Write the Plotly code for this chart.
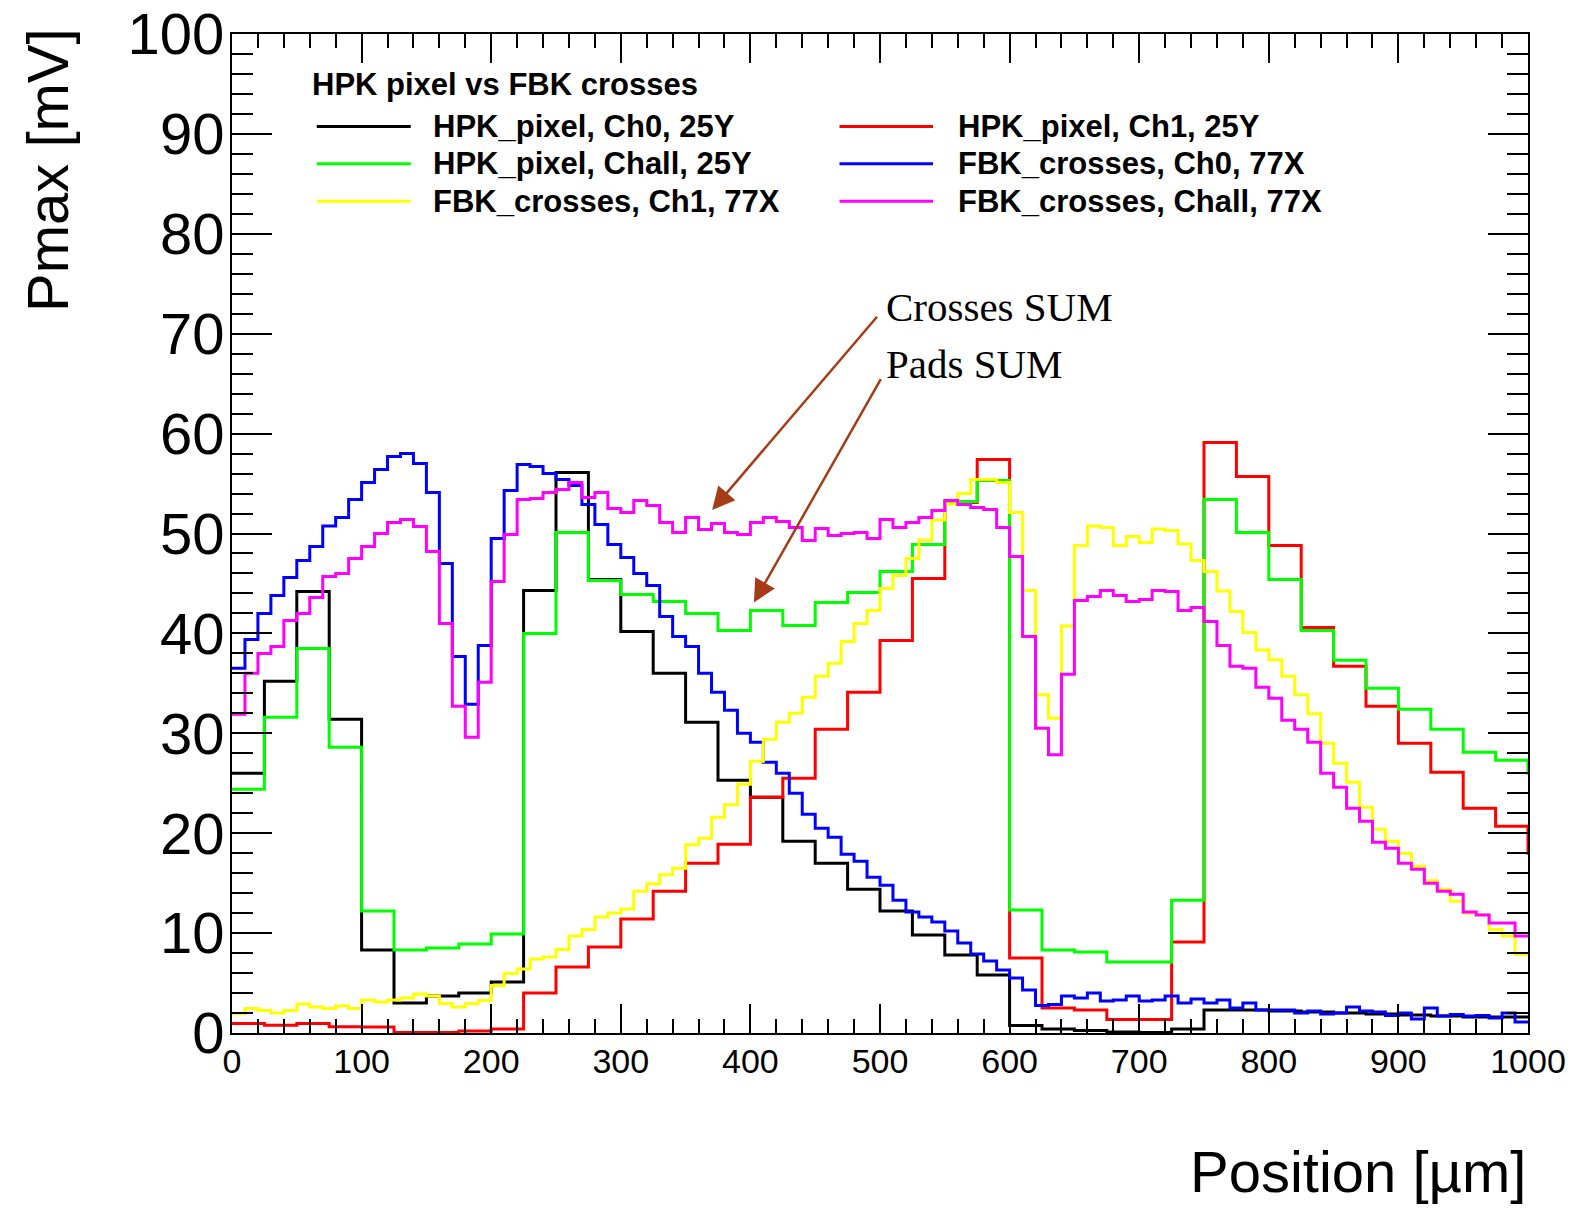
import numpy as np
import plotly.graph_objects as go

# ---------------------------------------------------------------------------
# Pmax vs position scan: HPK pixel (25 um bins) and FBK crosses (10 um bins)
# ---------------------------------------------------------------------------
HPK_BIN_WIDTH = 25.0
FBK_BIN_WIDTH = 10.0

# HPK_pixel, Ch0, 25Y
hpk_ch0 = [26.0, 35.2, 44.2, 31.4, 8.3, 3.0, 3.7, 4.0, 5.1, 44.3,
           56.1, 45.4, 40.2, 36.0, 31.1, 25.3, 23.6, 19.2, 17.0, 14.4,
           12.2, 9.8, 7.8, 5.8, 0.75, 0.4, 0.25, 0.1, 0.05, 0.4,
           2.3, 2.3, 2.2, 2.1, 2.0, 1.9, 1.8, 1.7, 1.6, 1.6]

# HPK_pixel, Ch1, 25Y (last entry is the bin just past 1000 um)
hpk_ch1 = [0.95, 0.78, 0.95, 0.62, 0.6, 0.05, 0.05, 0.2, 0.4, 4.0,
           6.6, 8.6, 11.4, 14.2, 17.0, 18.9, 23.6, 25.5, 30.4, 34.1,
           39.3, 45.5, 53.1, 57.4, 7.5, 2.5, 2.3, 1.35, 1.35, 9.1,
           59.1, 55.7, 48.8, 40.6, 36.7, 32.7, 29.0, 26.1, 22.5, 20.7,
           18.0]

# HPK_pixel, Chall, 25Y (last entry is the bin just past 1000 um)
hpk_chall = [24.4, 31.6, 38.5, 28.6, 12.2, 8.3, 8.5, 8.9, 9.9, 40.0,
             50.1, 45.3, 43.9, 43.2, 42.0, 40.3, 42.3, 40.8, 43.1, 44.1,
             46.2, 48.9, 53.2, 55.3, 12.3, 8.3, 8.1, 7.1, 7.1, 13.3,
             53.4, 50.1, 45.4, 40.3, 37.3, 34.5, 32.4, 30.4, 28.1, 27.3,
             26.0]

# FBK_crosses, Ch0, 77X
fbk_ch0 = [36.5, 39.4, 42.0, 43.8, 45.6, 47.3, 48.7, 50.75, 51.6, 53.4,
           55.1, 56.4, 57.7, 58.0, 57.0, 54.1, 47.0, 37.7, 32.9, 38.8,
           49.5, 54.3, 56.9, 56.7, 56.0, 55.4, 54.8, 52.9, 50.9, 48.9,
           47.6, 46.0, 44.8, 41.7, 39.7, 38.7, 36.0, 34.1, 32.3, 30.0,
           29.1, 27.1, 26.0, 24.0, 21.9, 20.5, 19.6, 17.9, 17.2, 15.6,
           14.8, 13.3, 12.1, 11.6, 11.1, 10.2, 9.0, 7.9, 7.2, 6.3,
           5.5, 4.3, 2.75, 2.85, 3.7, 3.5, 4.0, 3.2, 3.3, 3.7,
           3.2, 3.3, 3.7, 3.0, 3.4, 3.0, 3.3, 2.5, 3.0, 2.3,
           2.3, 2.3, 2.0, 2.2, 1.9, 2.0, 2.6, 2.2, 2.1, 1.75,
           2.0, 1.4, 2.5, 1.7, 1.85, 1.7, 1.75, 1.5, 2.0, 1.1]

# FBK_crosses, Ch1, 77X
fbk_ch1 = [1.95, 2.45, 2.25, 2.0, 2.25, 2.9, 2.6, 2.45, 2.7, 2.45,
           3.3, 3.1, 3.3, 3.5, 3.9, 3.7, 2.95, 2.6, 2.95, 3.25,
           4.75, 5.95, 6.4, 7.4, 7.6, 8.35, 9.7, 10.35, 11.6, 12.0,
           12.4, 14.2, 14.95, 15.85, 16.5, 18.85, 19.5, 21.6, 22.85, 24.9,
           27.2, 29.4, 31.1, 32.0, 33.6, 35.7, 37.0, 39.2, 41.0, 42.3,
           44.5, 45.8, 47.5, 49.35, 51.35, 52.95, 54.0, 55.4, 55.4, 55.1,
           52.1, 44.3, 33.85, 31.5, 40.75, 48.8, 50.75, 50.6, 48.8, 49.7,
           49.1, 50.45, 50.3, 48.95, 47.3, 46.2, 44.25, 42.2, 40.1, 38.35,
           37.35, 35.7, 33.85, 31.95, 29.0, 27.0, 25.1, 22.6, 20.4, 19.2,
           18.0, 16.7, 15.25, 14.4, 13.2, 12.0, 11.85, 10.35, 9.7, 7.85]

# FBK_crosses, Chall, 77X
fbk_chall = [31.9, 36.0, 38.0, 38.7, 41.3, 42.0, 43.6, 45.7, 46.0, 47.5,
             48.7, 50.0, 51.1, 51.4, 50.7, 48.2, 41.0, 32.7, 29.6, 35.1,
             45.2, 49.9, 53.4, 53.5, 54.1, 54.4, 55.1, 53.6, 54.1, 52.5,
             52.1, 53.3, 52.8, 51.1, 50.1, 51.6, 50.4, 51.0, 50.1, 49.9,
             51.1, 51.6, 51.2, 50.6, 49.3, 50.5, 49.8, 50.0, 50.1, 49.5,
             51.4, 50.6, 51.1, 51.6, 52.3, 53.3, 52.9, 52.6, 52.4, 50.6,
             47.7, 39.7, 30.5, 27.85, 35.9, 43.3, 43.7, 44.3, 43.8, 43.2,
             43.4, 44.3, 44.2, 42.3, 42.6, 41.2, 38.8, 36.7, 36.5, 34.6,
             33.5, 31.3, 30.4, 29.1, 26.0, 24.6, 22.5, 21.2, 19.1, 18.5,
             17.0, 16.4, 15.0, 14.2, 13.9, 12.1, 11.8, 11.0, 11.0, 9.7]

series = [
    ("HPK_pixel, Ch0, 25Y", hpk_ch0, HPK_BIN_WIDTH, "#000000"),
    ("HPK_pixel, Ch1, 25Y", hpk_ch1, HPK_BIN_WIDTH, "#FF0000"),
    ("HPK_pixel, Chall, 25Y", hpk_chall, HPK_BIN_WIDTH, "#00FF00"),
    ("FBK_crosses, Ch0, 77X", fbk_ch0, FBK_BIN_WIDTH, "#0000FF"),
    ("FBK_crosses, Ch1, 77X", fbk_ch1, FBK_BIN_WIDTH, "#FFFF00"),
    ("FBK_crosses, Chall, 77X", fbk_chall, FBK_BIN_WIDTH, "#FF00FF"),
]

LEGEND_TITLE = "HPK pixel vs FBK crosses"
X_TITLE = "Position [µm]"
Y_TITLE = "Pmax [mV]"
X_RANGE = [0, 1000]
Y_RANGE = [0, 100]

fig = go.Figure()

# histograms drawn as step lines: left edge of each bin, closed at the last right edge
for name, vals, width, color in series:
    edges = np.arange(len(vals) + 1) * width
    yvals = list(vals) + [vals[-1]]
    fig.add_trace(go.Scatter(
        x=edges, y=yvals, mode="lines", name=name,
        line=dict(color=color, width=3, shape="hv"),
        showlegend=False, hoverinfo="skip",
    ))

AX_FONT = "Liberation Sans, Arial, sans-serif"
LEG_FONT = "Liberation Sans, Arial, sans-serif"
SERIF = "Liberation Serif, Times New Roman, serif"

fig.update_layout(
    width=1574, height=1208,
    margin=dict(l=232, r=46, t=34, b=175),
    paper_bgcolor="white", plot_bgcolor="white",
    showlegend=False,
    xaxis=dict(
        range=X_RANGE, autorange=False, showgrid=False, zeroline=False,
        showline=True, linecolor="black", linewidth=2, mirror="ticks",
        ticks="inside", ticklen=29, tickwidth=2, tickcolor="black",
        dtick=100, tick0=0,
        minor=dict(ticks="inside", ticklen=14, tickwidth=2, tickcolor="black", dtick=20),
        tickfont=dict(family=AX_FONT, size=34, color="black"),
        ticklabelstandoff=-3, automargin=False,
    ),
    yaxis=dict(
        range=Y_RANGE, autorange=False, showgrid=False, zeroline=False,
        showline=True, linecolor="black", linewidth=2, mirror="ticks",
        ticks="inside", ticklen=40, tickwidth=2, tickcolor="black",
        dtick=10, tick0=0,
        minor=dict(ticks="inside", ticklen=21, tickwidth=2, tickcolor="black", dtick=2),
        tickfont=dict(family=AX_FONT, size=58, color="black"),
        ticklabelstandoff=-6, automargin=False,
    ),
)

# axis titles
fig.add_annotation(
    text=Y_TITLE, xref="paper", yref="paper", x=-0.1423, y=0.8635,
    xanchor="center", yanchor="middle", textangle=-90, showarrow=False,
    font=dict(family=AX_FONT, size=58, color="black"),
)
fig.add_annotation(
    text=X_TITLE, xref="paper", yref="paper", x=1.0, y=-0.1385,
    xanchor="right", yanchor="middle", showarrow=False,
    font=dict(family=AX_FONT, size=58, color="black"),
)

# legend box content (two columns, three rows)
PLOT_L, PLOT_W, PLOT_B, PLOT_H = 232.3, 1295.4, 1033.5, 1000.0


def px_to_paper(px, py):
    return (px - PLOT_L) / PLOT_W, (PLOT_B - py) / PLOT_H


tx, ty = px_to_paper(310.4, 84.5)
fig.add_annotation(
    text=f"<b>{LEGEND_TITLE}</b>", xref="paper", yref="paper", x=tx, y=ty,
    xanchor="left", yanchor="middle", showarrow=False,
    font=dict(family=LEG_FONT, size=31, color="black"),
)
col_line = [(317, 411), (839.5, 933)]
col_text = [431.5, 955.5]
row_y = [126, 163.5, 201]
for i, (name, vals, width, color) in enumerate(series):
    r, c = divmod(i, 2)
    x0, yy = px_to_paper(col_line[c][0], row_y[r])
    x1, _ = px_to_paper(col_line[c][1], row_y[r])
    fig.add_shape(type="line", xref="paper", yref="paper", x0=x0, x1=x1, y0=yy, y1=yy,
                  line=dict(color=color, width=3))
    xt, _ = px_to_paper(col_text[c], row_y[r])
    fig.add_annotation(
        text=f"<b>{name}</b>", xref="paper", yref="paper", x=xt, y=yy,
        xanchor="left", yanchor="middle", showarrow=False,
        font=dict(family=LEG_FONT, size=31, color="black"),
    )

# labelled arrows pointing at the summed channels
ARROW_COLOR = "#A63C17"
fig.add_annotation(text="Crosses SUM", x=503.1, y=72.65, xref="x", yref="y",
                   xanchor="left", yanchor="middle", showarrow=False,
                   font=dict(family=SERIF, size=41, color="black"))
fig.add_annotation(text="Pads SUM", x=503.1, y=66.97, xref="x", yref="y",
                   xanchor="left", yanchor="middle", showarrow=False,
                   font=dict(family=SERIF, size=41, color="black"))
fig.add_annotation(text="", x=370.5, y=52.35, ax=498.7, ay=71.85,
                   xref="x", yref="y", axref="x", ayref="y", showarrow=True,
                   arrowhead=2, arrowsize=1.8, arrowwidth=2.5, arrowcolor=ARROW_COLOR)
fig.add_annotation(text="", x=402.7, y=43.1, ax=501.3, ay=65.6,
                   xref="x", yref="y", axref="x", ayref="y", showarrow=True,
                   arrowhead=2, arrowsize=1.8, arrowwidth=2.5, arrowcolor=ARROW_COLOR)

fig.write_html("out.html")
